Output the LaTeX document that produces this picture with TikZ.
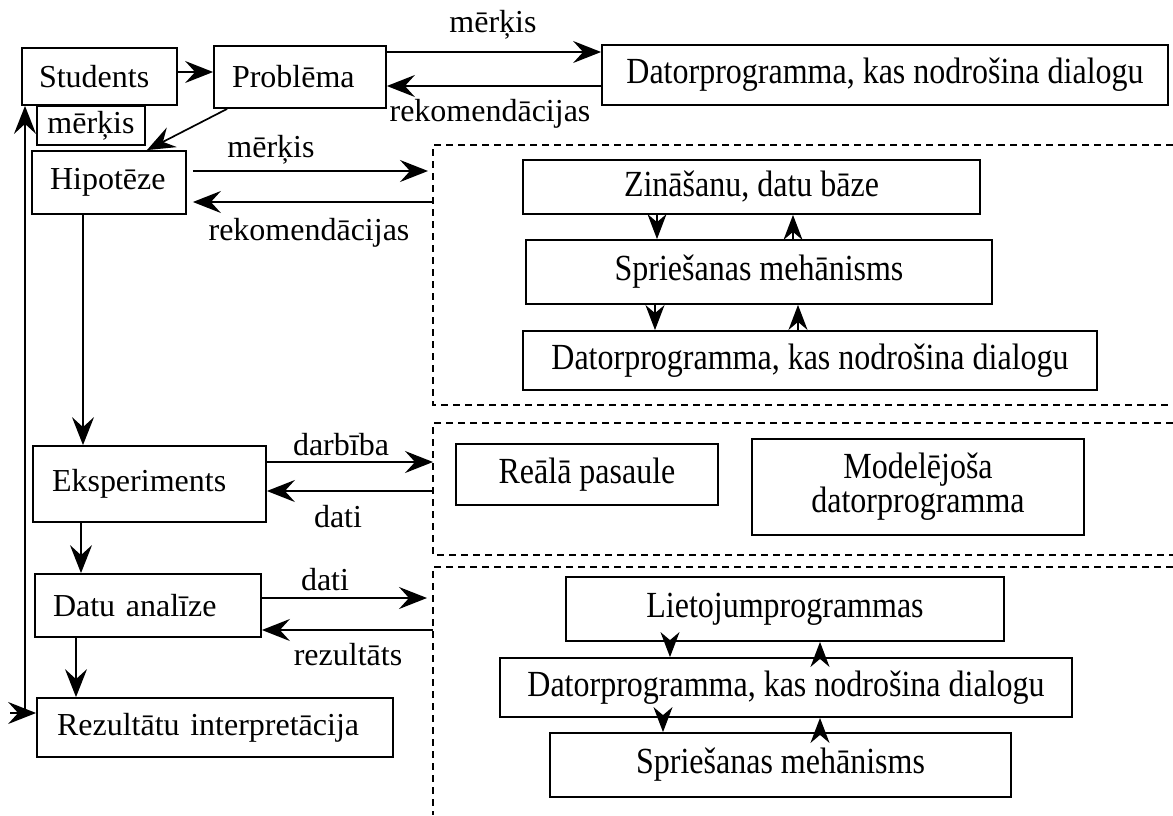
\documentclass[tikz,border=0pt]{standalone}
\usepackage{fontspec}
\usepackage{graphicx}
\setmainfont{Liberation Serif}
\usetikzlibrary{arrows.meta}
% slightly taller lettering used inside the dashed regions
\newcommand{\talltext}[1]{\scalebox{1}[1.15]{#1}}
\begin{document}
\begin{tikzpicture}[x=1pt,y=-1pt,
  txt/.style={font=\fontsize{32}{36}\selectfont},
  box/.style={draw, line width=1.8pt, txt, inner ysep=0pt},
  lbox/.style={box, align=left},
  cbox/.style={box, align=center, inner xsep=0pt},
  arr/.style={-{Stealth[length=28pt,width=22pt,inset=10pt]}, line width=1.7pt},
  iarr/.style={-{Stealth[length=25pt,width=19pt,inset=8pt]}, line width=1.7pt},
  lbl/.style={txt, inner sep=0pt, anchor=base},
  region/.style={dash pattern=on 7pt off 5pt, line width=1.4pt}]
\useasboundingbox (0,0) rectangle (1173,815);

% ---- left column: the steps of the study ----
\node[lbox, inner xsep=17pt, text width=121pt, minimum height=57pt] (students) at (99.5,76.5) {Students};
\node[lbox, inner xsep=18pt, text width=136pt, minimum height=62pt] (problema) at (300,77) {Problēma};
\node[cbox, minimum width=108pt, minimum height=39pt] (merkis) at (91,125.5) {mērķis};
\node[lbox, inner xsep=18pt, text width=118pt, minimum height=63pt] (hip) at (109,182.5) {Hipotēze};
\node[lbox, inner xsep=19pt, text width=195pt, minimum height=76pt] (eksp) at (149.5,484) {Eksperiments};
\node[lbox, inner xsep=18pt, text width=190pt, minimum height=63pt] (datu) at (148,605.5) {Datu analīze};
\node[lbox, inner xsep=20pt, text width=316pt, minimum height=59pt] (rez) at (215,727.5) {Rezultātu interpretācija};

% ---- right side: computer support ----
\node[cbox, minimum width=566pt, minimum height=60pt] (dtop) at (885,75) {\talltext{Datorprogramma, kas nodrošina dialogu}};

% knowledge-based system
\node[cbox, minimum width=457pt, minimum height=54pt] (z1) at (751.5,187) {\talltext{Zināšanu, datu bāze}};
\node[cbox, minimum width=466pt, minimum height=64pt] (s1) at (759,272) {\talltext{Spriešanas mehānisms}};
\node[cbox, minimum width=574pt, minimum height=59pt] (d1) at (810,360.5) {\talltext{Datorprogramma, kas nodrošina dialogu}};

% experiment environment
\node[cbox, minimum width=262pt, minimum height=61pt] (real) at (587,474.5) {\talltext{Reālā pasaule}};
\node[cbox, minimum width=332pt, minimum height=96pt] (model) at (918,487) {\talltext{Modelējoša}\\[-2pt]\talltext{datorprogramma}};

% data analysis tools
\node[cbox, minimum width=438pt, minimum height=64pt] (liet) at (785,609) {\talltext{Lietojumprogrammas}};
\node[cbox, minimum width=572pt, minimum height=59pt] (d3) at (786,687.5) {\talltext{Datorprogramma, kas nodrošina dialogu}};
\node[cbox, minimum width=461pt, minimum height=64pt] (s3) at (780.5,765) {\talltext{Spriešanas mehānisms}};

% dashed regions, open towards the right margin
\draw[region] (1173,145) -- (433,145) -- (433,405) -- (1173,405);
\draw[region] (1173,423) -- (433,423) -- (433,555) -- (1173,555);
\draw[region] (1173,567) -- (433,567) -- (433,815);

% helper coordinates
\coordinate (reg) at (433,0);
\coordinate (y52) at (0,52);
\coordinate (y72) at (0,72);
\coordinate (y86) at (0,86);
\coordinate (y171) at (0,171);
\coordinate (y202) at (0,202);
\coordinate (y462) at (0,462);
\coordinate (y491) at (0,491);
\coordinate (y598) at (0,598);
\coordinate (y630) at (0,630);
\coordinate (x83) at (83,0);
\coordinate (x81) at (81,0);
\coordinate (x76) at (76,0);
\coordinate (lb) at (25,713);
\coordinate (la) at (10,713);

% main flow
\draw[arr] (students.east |- y72) -- (problema.west |- y72);
\draw[arr] ([xshift=14pt]problema.south west) -- ([xshift=-40pt]hip.north east);
\draw[arr] (x83 |- hip.south) -- (x83 |- eksp.north);
\draw[arr] (x81 |- eksp.south) -- (x81 |- datu.north);
\draw[arr] (x76 |- datu.south) -- (x76 |- rez.north);
\draw[line width=1.7pt] (lb) -- (la);
\draw[arr] (lb) -- (lb |- students.south);
\draw[arr] (la) -- (rez.west |- la);

% exchanges with the computer
\draw[arr] (problema.east |- y52) -- (dtop.west |- y52);
\draw[arr] (dtop.west |- y86) -- (problema.east |- y86);
\node[lbl] (m1) at (493,32) {mērķis};
\node[lbl] (r1) at (490,121) {rekomendācijas};

\draw[arr] ([xshift=6pt]hip.east |- y171) -- ([xshift=-5pt]reg |- y171);
\draw[arr] (reg |- y202) -- ([xshift=6pt]hip.east |- y202);
\node[lbl] (m2) at (271,157) {mērķis};
\node[lbl] (r2) at (309,240) {rekomendācijas};

\draw[arr] (eksp.east |- y462) -- (reg |- y462);
\draw[arr] (reg |- y491) -- (eksp.east |- y491);
\node[lbl] (a1) at (341,455) {darbība};
\node[lbl] (a2) at (338,527) {dati};

\draw[arr] (datu.east |- y598) -- ([xshift=-6pt]reg |- y598);
\draw[arr] (reg |- y630) -- (datu.east |- y630);
\node[lbl] (a3) at (325,590) {dati};
\node[lbl] (a4) at (348,665) {rezultāts};

% links inside the regions
\coordinate (i1) at (657,0);
\coordinate (i2) at (793,0);
\coordinate (i3) at (655,0);
\coordinate (i4) at (798,0);
\coordinate (i5) at (670,0);
\coordinate (i6) at (820,0);
\coordinate (i7) at (663,0);
\draw[iarr] (i1 |- z1.south) -- (i1 |- s1.north);
\draw[iarr] (i2 |- s1.north) -- (i2 |- z1.south);
\draw[iarr] (i3 |- s1.south) -- (i3 |- d1.north);
\draw[iarr] (i4 |- d1.north) -- (i4 |- s1.south);
\draw[iarr] (i5 |- liet.south) -- (i5 |- d3.north);
\draw[iarr] (i6 |- d3.north) -- (i6 |- liet.south);
\draw[iarr] (i7 |- d3.south) -- (i7 |- s3.north);
\draw[iarr] (i6 |- s3.north) -- (i6 |- d3.south);
\end{tikzpicture}
\end{document}
